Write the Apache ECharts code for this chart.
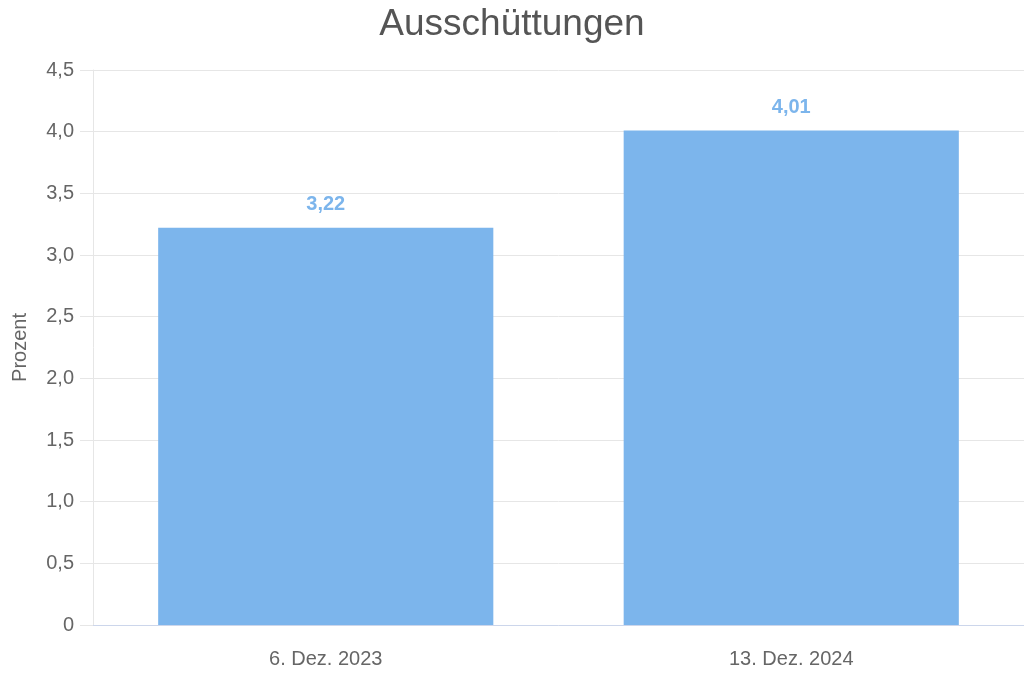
<!DOCTYPE html>
<html><head><meta charset="utf-8">
<script src="https://cdn.jsdelivr.net/npm/echarts@6/dist/echarts.min.js"></script>
<style>html,body{margin:0;padding:0;background:#fff}#c{width:1024px;height:676px}</style>
</head><body><div id="c"></div>
<script>
const categories = ['6. Dez. 2023', '13. Dez. 2024'];
const values = [3.22, 4.01];
const yMin = 0, yMax = 4.5, yStep = 0.5;
const fmt = v => v === 0 ? '0' : v.toFixed(1).replace('.', ',');
const chart = echarts.init(document.getElementById('c'));
chart.setOption({
  animation: false,
  textStyle: { fontFamily: 'Liberation Sans, Arial, sans-serif' },
  title: { text: 'Ausschüttungen', left: 'center', top: 1,
    textStyle: { fontSize: 37, fontWeight: 'normal', color: '#555', fontFamily: 'Liberation Sans, Arial, sans-serif' } },
  grid: { left: 93, right: 0, top: 70, bottom: 51, outerBoundsMode: 'none', containLabel: false },
  xAxis: { type: 'category', data: categories,
    axisLine: { lineStyle: { color: '#ccd6eb', width: 1 } },
    axisTick: { show: false },
    axisLabel: { color: '#666', fontSize: 20, margin: 24 } },
  yAxis: { type: 'value', min: yMin, max: yMax, interval: yStep,
    name: 'Prozent', nameLocation: 'middle', nameGap: 63, nameRotate: 90,
    nameTextStyle: { color: '#666', fontSize: 20 },
    axisLine: { show: true, lineStyle: { color: '#e6e6e6' } },
    axisTick: { show: true, length: 13, lineStyle: { color: '#e6e6e6' } },
    splitLine: { lineStyle: { color: '#e6e6e6' } },
    axisLabel: { color: '#666', fontSize: 20, margin: 19, formatter: fmt } },
  series: [{ type: 'bar', data: values, barCategoryGap: '28%',
    itemStyle: { color: '#7cb5ec' },
    label: { show: true, position: 'top', distance: 13, color: '#7cb5ec', fontWeight: 'bold', fontSize: 20,
      formatter: p => p.value.toFixed(2).replace('.', ',') } }]
});
</script></body></html>
